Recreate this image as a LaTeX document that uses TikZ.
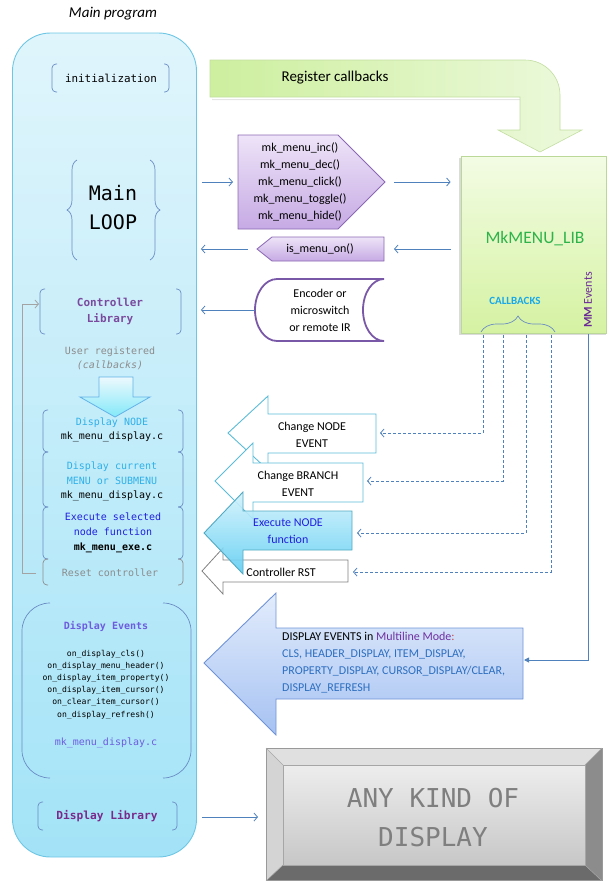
\documentclass[tikz,border=0pt]{standalone}
\usepackage{fontspec}
\setmainfont{Carlito}
\newfontfamily\monof{DejaVu Sans Mono}
\usetikzlibrary{arrows.meta,decorations.pathreplacing}
\definecolor{mainTop}{HTML}{E0F5FC}
\definecolor{mainBot}{HTML}{A3E3F7}
\definecolor{mainBorder}{HTML}{6EC6E4}
\definecolor{brkBlue}{HTML}{6A8CC4}
\definecolor{linkBlue}{HTML}{4F81BD}
\definecolor{ctrlPurple}{HTML}{7B4A9E}
\definecolor{userGray}{HTML}{8C8C8C}
\definecolor{dnCyan}{HTML}{2FB0E8}
\definecolor{exBlue}{HTML}{2020E0}
\definecolor{evPurple}{HTML}{6E5CE0}
\definecolor{dlPurple}{HTML}{7A2A8A}
\definecolor{regLeft}{HTML}{CDEF9E}
\definecolor{regRight}{HTML}{ECF9DC}
\definecolor{regBorder}{HTML}{C2DEA0}
\definecolor{libTop}{HTML}{F3FCE4}
\definecolor{libBot}{HTML}{D5F2A2}
\definecolor{libBorder}{HTML}{BCD898}
\definecolor{libGreen}{HTML}{2DB34A}
\definecolor{cbCyan}{HTML}{1AA8E8}
\definecolor{mmPurple}{HTML}{6A2A96}
\definecolor{pentTop}{HTML}{EEE4F8}
\definecolor{pentBot}{HTML}{C6AAE4}
\definecolor{pentBorder}{HTML}{8A68B4}
\definecolor{encBorder}{HTML}{7A58A8}
\definecolor{evtCyan}{HTML}{5BBCD8}
\definecolor{exTop}{HTML}{D4F3FC}
\definecolor{exBot}{HTML}{5ECDF2}
\definecolor{rstGray}{HTML}{808080}
\definecolor{deTop}{HTML}{E2ECFC}
\definecolor{deBot}{HTML}{A6C2F2}
\definecolor{deBorder}{HTML}{6F93D6}
\definecolor{deBlue}{HTML}{2E6FC0}
\definecolor{mlPurple}{HTML}{7030A0}
\definecolor{colonRed}{HTML}{C0504D}
\definecolor{dispText}{HTML}{7F7F7F}
\newcommand\mybrackets[5][]{%
  \draw[brk,#1] ({#2+5},#3) -- (#2,#3) -- (#2,#5) -- ({#2+5},#5);
  \draw[brk,#1] ({#4-5},#3) -- (#4,#3) -- (#4,#5) -- ({#4-5},#5);}
\begin{document}
\begin{tikzpicture}[x=1pt,y=-1pt,
  arr/.style={draw=linkBlue, line width=0.8pt, -{Straight Barb[length=3.5pt,width=8pt]}},
  dasharr/.style={arr, dash pattern=on 3pt off 2pt},
  fbarr/.style={draw=userGray!80, line width=0.8pt, -{Straight Barb[length=3.5pt,width=8pt]}},
  brk/.style={draw=brkBlue, line width=0.7pt, rounded corners=4},
  mono/.style={font=\monof\fontsize{10}{14.5}\selectfont, align=center, inner sep=0pt},
  sans/.style={font=\fontsize{12}{17}\selectfont, align=center, inner sep=0pt},
  mainbox/.style={draw=mainBorder, line width=0.9pt, rounded corners=38, minimum width=184, minimum height=824, top color=mainTop, bottom color=mainBot, inner sep=0pt},
  libbox/.style={draw=libBorder, line width=0.8pt, minimum width=145, minimum height=177, top color=libTop, bottom color=libBot, inner sep=0pt},
  pent/.style={draw=pentBorder, line width=0.8pt, top color=pentTop, bottom color=pentBot},
  evtarrow/.style={draw=evtCyan, line width=0.9pt, fill=white},
]
\useasboundingbox (0,0) rectangle (608,881);

% ---------------- main program column
\node[font=\itshape\fontsize{15}{18}\selectfont] (title) at (113,14) {Main program};
\node[mainbox] (main) at (104.5,445) {};

\node[mono, font=\monof\fontsize{10.9}{13}\selectfont] (init) at (111,78) {initialization};
\mybrackets{52}{64}{169}{92}

\node[font=\monof\fontsize{20}{29}\selectfont, align=center, inner sep=0pt] (loop) at (113,207.5) {Main\\LOOP};
\draw[draw=brkBlue, line width=0.7pt, decorate, decoration={brace, amplitude=10pt}] (77,260) -- (77,160);
\draw[draw=brkBlue, line width=0.7pt, decorate, decoration={brace, amplitude=10pt}] (150,160) -- (150,260);

\node[mono, font=\monof\bfseries\fontsize{11}{16}\selectfont, text=ctrlPurple] (ctrl) at (110,311) {Controller\\Library};
\mybrackets{40}{289}{181}{334}

\node[mono, text=userGray] (usr) at (110,358.5) {User registered\\\textit{(callbacks)}};

\draw[draw=mainBorder!90!blue, line width=0.8pt, top color=mainTop!60!white, bottom color=mainBot!80!cyan]
  (99,377) -- (133,377) -- (133,397) -- (150,397) -- (115,417) -- (80,397) -- (99,397) -- cycle;

\node[mono] (dnode) at (112,430) {\textcolor{dnCyan}{Display NODE}\\mk\_menu\_display.c};
\mybrackets{43}{410}{183}{452}
\node[mono] (dcur) at (112,481.5) {\textcolor{dnCyan}{Display current}\\\textcolor{dnCyan}{MENU or SUBMENU}\\mk\_menu\_display.c};
\mybrackets{43}{452}{183}{507}
\node[mono, font=\monof\fontsize{10}{15}\selectfont] (exe) at (113,533) {\textcolor{exBlue}{Execute selected}\\\textcolor{exBlue}{node function}\\\textbf{mk\_menu\_exe.c}};
\mybrackets{43}{507}{183}{559}
\node[mono, text=userGray] (reset) at (110,573) {Reset controller};
\mybrackets[draw=userGray]{43}{559}{183}{585}

\coordinate (fbS) at (36,573);
\coordinate (fbE) at (39,304);
\draw[fbarr] (fbS) -- (22,573) |- (fbE);

% display events block
\draw[brk, rounded corners=28] (50,603) -- (22,603) -- (22,778) -- (50,778);
\draw[brk, rounded corners=28] (163,603) -- (191,603) -- (191,778) -- (163,778);
\node[mono, font=\monof\bfseries\fontsize{10}{12}\selectfont, text=evPurple] (devt) at (106,626) {Display Events};
\node[mono, font=\monof\fontsize{8.1}{12.2}\selectfont] (dlist) at (106,684.5)
  {on\_display\_cls()\\on\_display\_menu\_header()\\on\_display\_item\_property()\\on\_display\_item\_cursor()\\on\_clear\_item\_cursor()\\on\_display\_refresh()};
\node[mono, text=evPurple] (dmk) at (106,743) {mk\_menu\_display.c};

\node[mono, font=\monof\bfseries\fontsize{11.2}{13}\selectfont, text=dlPurple] (dlib) at (107,816) {Display Library};
\mybrackets{38}{802}{177}{830}

% ---------------- register callbacks arrow
\fill[black!10] (212,62) -- (212,100) -- (522,100) -- (522,99) -- (212,99) -- cycle;
\path[draw=regBorder, line width=0.6pt, left color=regLeft, right color=regRight]
  (210,60) -- (525,60) arc[start angle=-90, end angle=0, radius=35] -- (560,130) -- (582,130)
  -- (540,152) -- (498,130) -- (520,130) -- (520,97) -- (210,97) -- cycle;
\node[font=\fontsize{15}{18}\selectfont] (reg) at (335,78) {Register callbacks};

% ---------------- MkMENU_LIB box
\fill[black!14] (459,158) rectangle (606,335);
\node[libbox] (lib) at (533.5,244.5) {};
\node[text=libGreen, font=\fontsize{17.5}{20}\selectfont] (libname) at (535,239) {MkMENU\_LIB};
\node[text=cbCyan, font=\bfseries\fontsize{11}{13}\selectfont] (cb) at (515,301) {CALLBACKS};
\draw[draw=brkBlue, line width=0.7pt, decorate, decoration={brace, amplitude=16pt}] (481,332) -- (555,332);
\node[rotate=90, text=mmPurple, font=\fontsize{12}{14}\selectfont] (mm) at (588,300) {\textbf{MM} Events};

% ---------------- function pentagon
\draw[pent] (238,135) -- (338,135) -- (385,182) -- (338,229) -- (238,229) -- cycle;
\node[sans] (fns) at (300,182) {mk\_menu\_inc()\\mk\_menu\_dec()\\mk\_menu\_click()\\mk\_menu\_toggle()\\mk\_menu\_hide()};
\coordinate (fnsL) at (238,182);
\coordinate (fnsR) at (385,182);

\draw[pent] (384,237) -- (272,237) -- (257,249) -- (272,261) -- (384,261) -- cycle;
\node[sans] (isn) at (320,249) {is\_menu\_on()};
\coordinate (isL) at (257,249);
\coordinate (isR) at (384,249);

% encoder
\draw[draw=encBorder, line width=1.8pt, fill=white]
  (384,279) -- (277,279) arc[start angle=-90, end angle=-270, x radius=22, y radius=31]
  -- (384,341) arc[start angle=90, end angle=270, x radius=21, y radius=31] -- cycle;
\node[sans] (enc) at (320,310) {Encoder or\\microswitch\\or remote IR};
\coordinate (encL) at (255,310);

\draw[arr, shorten <=5pt, shorten >=5pt] (fnsL -| main.east) -- (fnsL);
\draw[arr, shorten <=9pt, shorten >=10pt] (fnsR) -- (fnsR -| lib.west);
\draw[arr, shorten <=10pt, shorten >=10pt] (isR -| lib.west) -- (isR);
\draw[arr, shorten <=9pt, shorten >=4pt] (isL) -- (isL -| main.east);
\draw[arr, shorten >=4pt] (encL) -- (encL -| main.east);

% ---------------- event arrows
\draw[evtarrow] (376,414) -- (268,414) -- (268,396) -- (228,433) -- (268,470) -- (268,453) -- (376,453) -- cycle;
\node[sans] (chnode) at (312,435) {Change NODE\\EVENT};
\coordinate (chnodeR) at (376,433);

\draw[evtarrow] (363,463) -- (253,463) -- (253,443) -- (215,481) -- (253,519) -- (253,502) -- (363,502) -- cycle;
\node[sans] (chbr) at (298,483.5) {Change BRANCH\\EVENT};
\coordinate (chbrR) at (363,481);

\draw[draw=rstGray, line width=0.8pt, fill=white] (348,560) -- (223,560) -- (223,548) -- (202,571) -- (223,594) -- (223,582) -- (348,582) -- cycle;
\node[sans] (rst) at (281,572) {Controller RST};
\coordinate (rstR) at (348,572);

\draw[draw=evtCyan!90!black, line width=0.9pt, top color=exTop, bottom color=exBot, fill opacity=0.9]
  (352,511) -- (243,511) -- (243,492) -- (204,533) -- (243,574) -- (243,550) -- (352,550) -- cycle;
\node[sans, text=exBlue] (exn) at (288,531.5) {Execute NODE\\function};
\coordinate (exnR) at (352,533);

\coordinate (cb1) at (483,335);
\coordinate (cb2) at (503,335);
\coordinate (cb3) at (526,335);
\coordinate (cb4) at (551,335);
\draw[dasharr, shorten >=4pt] (cb1) |- (chnodeR);
\draw[dasharr, shorten >=4pt] (cb2) |- (chbrR);
\draw[dasharr, shorten >=5pt] (cb3) |- (exnR);
\draw[dasharr, shorten >=5pt] (cb4) |- (rstR);

% ---------------- display events arrow
\draw[draw=deBorder, line width=0.9pt, top color=deTop, bottom color=deBot]
  (523,628) -- (276,628) -- (276,593) -- (204,663) -- (276,735) -- (276,699) -- (523,699) -- cycle;
\node[anchor=west, align=left, inner sep=0pt, font=\fontsize{12}{17}\selectfont, text=deBlue] (devtxt) at (282,662.5)
  {\textcolor{black}{DISPLAY EVENTS in }\textcolor{mlPurple}{Multiline Mode}\textcolor{colonRed}{:}\\
   CLS, HEADER\_DISPLAY, ITEM\_DISPLAY,\\
   PROPERTY\_DISPLAY, CURSOR\_DISPLAY/CLEAR,\\
   DISPLAY\_REFRESH};
\coordinate (devR) at (523,660);
\coordinate (mmS) at (588,334);
\draw[draw=linkBlue, line width=0.9pt, -{Triangle[length=5pt,width=5pt]}, shorten >=1pt] (mmS) |- (devR);

% ---------------- display device
\fill[black!12] (266,748) -- (602,748) -- (585,765) -- (283,765) -- cycle;
\fill[black!17] (266,748) -- (283,765) -- (283,865) -- (266,881) -- cycle;
\fill[black!45] (602,748) -- (602,881) -- (585,865) -- (585,765) -- cycle;
\fill[black!58] (266,881) -- (283,865) -- (585,865) -- (602,881) -- cycle;
\node[draw=black!35, line width=0.5pt, minimum width=302, minimum height=100, top color=black!7, bottom color=black!22, inner sep=0pt] (disp) at (434,815) {};
\draw[black!40, line width=0.6pt] (266,748) rectangle (602,880.5);
\draw[black!35, line width=0.5pt] (266,748) -- (283,765) (602,748) -- (585,765) (266,881) -- (283,865) (602,881) -- (585,865);
\node[font=\monof\fontsize{26}{39}\selectfont, align=center, text=dispText, inner sep=0pt] (disptxt) at (433,817.5) {ANY KIND OF\\DISPLAY};
\coordinate (dispL) at (266,817);
\draw[arr, shorten <=5pt, shorten >=8pt] (dispL -| main.east) -- (dispL);

\end{tikzpicture}
\end{document}
